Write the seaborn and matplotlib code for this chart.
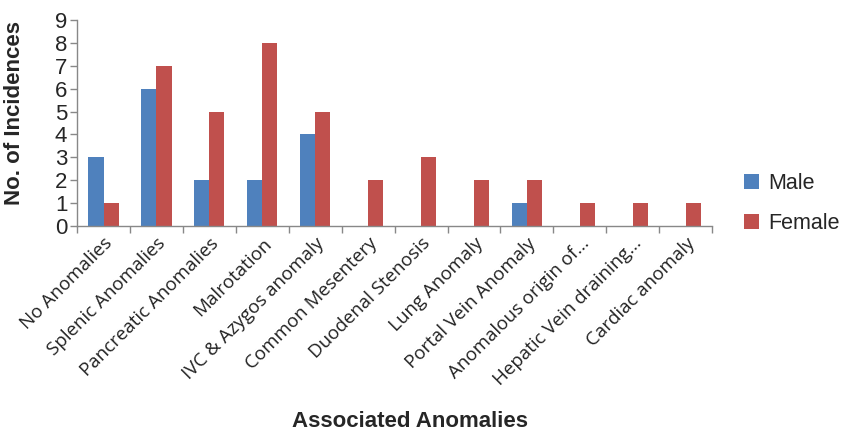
import numpy as np
import pandas as pd
import matplotlib
matplotlib.use("Agg")
import matplotlib.pyplot as plt
import seaborn as sns

# Data
categories = ["No Anomalies", "Splenic Anomalies", "Pancreatic Anomalies", "Malrotation",
              "IVC & Azygos anomaly", "Common Mesentery", "Duodenal Stenosis", "Lung Anomaly",
              "Portal Vein Anomaly", "Anomalous origin of...", "Hepatic Vein draining...",
              "Cardiac anomaly"]
male = [3, 6, 2, 2, 4, 0, 0, 0, 1, 0, 0, 0]
female = [1, 7, 5, 8, 5, 2, 3, 2, 2, 1, 1, 1]

df = pd.DataFrame({
    "category": categories * 2,
    "count": male + female,
    "sex": ["Male"] * len(categories) + ["Female"] * len(categories),
})

sns.set_style("white")
plt.rcParams['font.family'] = ['Liberation Sans', 'DejaVu Sans']

fig = plt.figure(figsize=(8.56, 4.34), dpi=100)
ax = fig.add_axes([0.090, 0.479, 0.742, 0.475])

sns.barplot(data=df, x="category", y="count", hue="sex",
            palette={"Male": "#4F81BD", "Female": "#C0504D"},
            width=0.57, gap=0, ax=ax, saturation=1, linewidth=0)

ax.set_xlim(-0.5, len(categories) - 0.5)
ax.set_ylim(0, 9)
ax.set_yticks(range(0, 10))
ax.tick_params(axis="y", labelsize=16, length=5, width=1, color="#888888", direction="out", left=True, pad=2)

# x ticks at category boundaries, labels at category centres
ax.set_xticks(np.arange(len(categories)))
ax.set_xticklabels(categories, rotation=45, ha="right", va="top", rotation_mode="anchor",
                   fontsize=13.5, family=["Open Sans", "DejaVu Sans"], color="#222222")
ax.tick_params(axis="x", length=0, pad=6)
ax.set_xticks(np.arange(-0.5, len(categories)), minor=True)
ax.tick_params(axis="x", which="minor", length=5, width=1, color="#888888", direction="out", bottom=True)

for side in ["top", "right"]:
    ax.spines[side].set_visible(False)
for side in ["left", "bottom"]:
    ax.spines[side].set_color("#888888")
    ax.spines[side].set_linewidth(1)

ax.set_ylabel("No. of Incidences", fontsize=16, fontweight="bold")
ax.yaxis.set_label_coords(-0.082, 0.55)
ax.set_xlabel("")
fig.text(0.479, 0.005, "Associated Anomalies", ha="center", va="bottom",
         fontsize=16, fontweight="bold")

handles, labels = ax.get_legend_handles_labels()
ax.legend(handles, labels, loc="center left", bbox_to_anchor=(1.02, 0.11), frameon=False,
          fontsize=15.5, handlelength=0.7, handleheight=0.7, handletextpad=0.4, labelspacing=0.85)

fig.savefig("out.png", dpi=100)
